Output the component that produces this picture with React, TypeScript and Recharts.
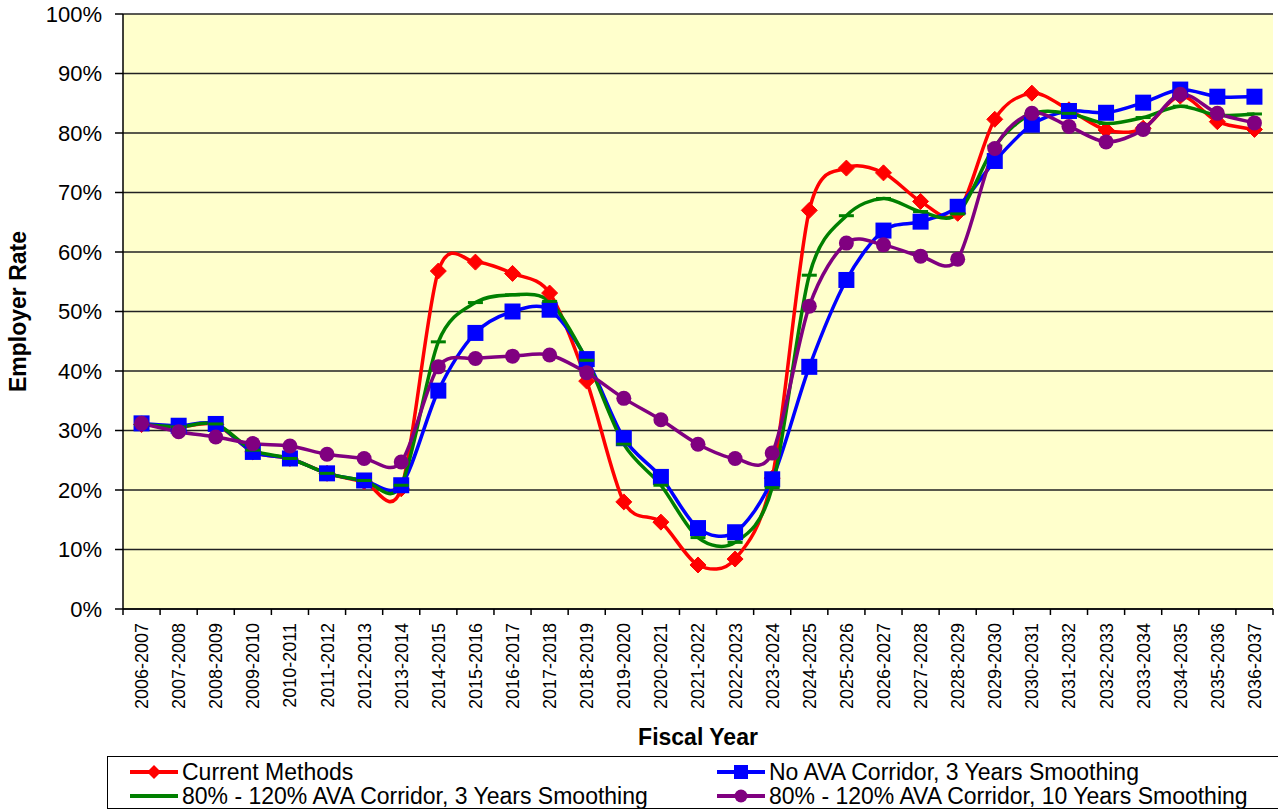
import React from 'react';
import { LineChart, Line, XAxis, YAxis, CartesianGrid, Legend, Label } from 'recharts';

const categories = [
  '2006-2007', '2007-2008', '2008-2009', '2009-2010', '2010-2011', '2011-2012', '2012-2013', '2013-2014',
  '2014-2015', '2015-2016', '2016-2017', '2017-2018', '2018-2019', '2019-2020', '2020-2021', '2021-2022',
  '2022-2023', '2023-2024', '2024-2025', '2025-2026', '2026-2027', '2027-2028', '2028-2029', '2029-2030',
  '2030-2031', '2031-2032', '2032-2033', '2033-2034', '2034-2035', '2035-2036', '2036-2037',
];

const currentMethods = [31, 30.6, 31, 26.4, 25.3, 22.8, 21.4, 20.2, 56.8, 58.3, 56.4, 53.1, 38.3, 18, 14.6, 7.4, 8.4, 22, 67, 74.1, 73.3, 68.5, 66.5, 82.3, 86.7, 83.9, 80.5, 80.8, 86.2, 81.9, 80.6];
const noCorridor3 = [31.2, 30.8, 31.1, 26.4, 25.3, 22.8, 21.6, 20.8, 36.7, 46.4, 50, 50.3, 42, 28.7, 22.2, 13.6, 12.9, 21.8, 40.7, 55.3, 63.6, 65.1, 67.6, 75.3, 81.4, 83.7, 83.4, 85.1, 87.3, 86.1, 86.1];
const corridor3 = [31, 30.6, 31.1, 26.7, 25.3, 22.8, 21.6, 20.8, 44.9, 51.5, 52.8, 51.7, 41.8, 27.7, 20.8, 12, 11.2, 20.4, 56.1, 66.1, 69, 66.8, 66.4, 77.8, 83.2, 83.3, 81.6, 82.6, 84.5, 83, 83.2];
const corridor10 = [31.2, 29.8, 28.9, 27.8, 27.4, 26, 25.3, 24.7, 40.7, 42.1, 42.5, 42.7, 39.7, 35.4, 31.8, 27.7, 25.3, 26.2, 50.9, 61.5, 61.2, 59.3, 58.8, 77.4, 83.3, 81.1, 78.5, 80.6, 86.5, 83.3, 81.7];

const yTicks = [0, 10, 20, 30, 40, 50, 60, 70, 80, 90, 100];

const seriesNames = [
  'Current Methods',
  'No AVA Corridor, 3 Years Smoothing',
  '80% - 120% AVA Corridor, 3 Years Smoothing',
  '80% - 120% AVA Corridor, 10 Years Smoothing',
];

const data = categories.map((year, i) => ({
  year,
  cur: currentMethods[i],
  noc: noCorridor3[i],
  c3: corridor3[i],
  c10: corridor10[i],
}));

const FONT = '"Liberation Sans", Arial, sans-serif';
const HALF_BAND = 18.55;

// Catmull-Rom style smoothing similar to Excel's smoothed lines
const smoothCurve = (context: any) => {
  let pts: number[][] = [];
  return {
    areaStart() {},
    areaEnd() {},
    lineStart() {
      pts = [];
    },
    point(x: number, y: number) {
      pts.push([+x, +y]);
    },
    lineEnd() {
      const n = pts.length;
      if (!n) return;
      context.moveTo(pts[0][0], pts[0][1]);
      const k = 0.15;
      for (let i = 0; i < n - 1; i++) {
        const p0 = pts[i - 1] || pts[i];
        const p1 = pts[i];
        const p2 = pts[i + 1];
        const p3 = pts[i + 2] || p2;
        context.bezierCurveTo(
          p1[0] + k * (p2[0] - p0[0]),
          p1[1] + k * (p2[1] - p0[1]),
          p2[0] - k * (p3[0] - p1[0]),
          p2[1] - k * (p3[1] - p1[1]),
          p2[0],
          p2[1],
        );
      }
    },
  };
};

const DiamondDot = (props: any) => {
  const { cx, cy, index } = props;
  if (cx == null || cy == null) return <g key={`dm-${index}`} />;
  const s = 8;
  return (
    <polygon
      key={`dm-${index}`}
      points={`${cx},${cy - s} ${cx + s},${cy} ${cx},${cy + s} ${cx - s},${cy}`}
      fill="#FF0000"
      stroke="#FF0000"
      strokeWidth={1}
    />
  );
};

const SquareDot = (props: any) => {
  const { cx, cy, index } = props;
  if (cx == null || cy == null) return <g key={`sq-${index}`} />;
  const s = 8;
  return <rect key={`sq-${index}`} x={cx - s} y={cy - s} width={2 * s} height={2 * s} fill="#0000FF" />;
};

const DashDot = (props: any) => {
  const { cx, cy, index } = props;
  if (cx == null || cy == null) return <g key={`ds-${index}`} />;
  return <rect key={`ds-${index}`} x={cx - 7.5} y={cy - 1.5} width={15} height={3} fill="#008000" />;
};

const CircleDot = (props: any) => {
  const { cx, cy, index } = props;
  if (cx == null || cy == null) return <g key={`ci-${index}`} />;
  return <circle key={`ci-${index}`} cx={cx} cy={cy} r={7.5} fill="#800080" />;
};

const XTick = (props: any) => {
  const { x, y, payload, index } = props;
  const half = payload && payload.offset > 0 ? payload.offset : HALF_BAND;
  const axisY = y - 14;
  const last = index === categories.length - 1;
  return (
    <g>
      <line x1={x - half} x2={x - half} y1={axisY} y2={axisY + 6} stroke="#000" strokeWidth={1.5} />
      {last && <line x1={x + half} x2={x + half} y1={axisY} y2={axisY + 6} stroke="#000" strokeWidth={1.5} />}
      <text
        x={x}
        y={y}
        transform={`rotate(-90 ${x} ${y})`}
        textAnchor="end"
        dy="0.36em"
        fontSize={18}
        fontFamily={FONT}
        fill="#000"
      >
        {payload.value}
      </text>
    </g>
  );
};

const legendIcon = (i: number) => {
  const colors = ['#FF0000', '#0000FF', '#008000', '#800080'];
  const c = colors[i];
  let marker: any = null;
  if (i === 0) marker = <polygon points="24,0 31,7 24,14 17,7" fill={c} />;
  if (i === 1) marker = <rect x={17} y={0} width={14} height={14} fill={c} />;
  if (i === 3) marker = <circle cx={24} cy={7} r={6.5} fill={c} />;
  return (
    <svg width={48} height={14} style={{ marginRight: 4, flex: 'none' }}>
      <line x1={0} x2={48} y1={7} y2={7} stroke={c} strokeWidth={4} />
      {marker}
    </svg>
  );
};

const renderLegend = () => (
  <div
    style={{
      boxSizing: 'border-box',
      width: 1171,
      height: 53,
      border: '1.5px solid #000',
      borderRight: 'none',
      paddingTop: 4,
      paddingLeft: 22,
      display: 'grid',
      gridTemplateColumns: '587px auto',
      fontSize: 23,
      lineHeight: '22px',
      fontFamily: FONT,
      color: '#000',
      background: '#fff',
      overflow: 'hidden',
    }}
  >
    {seriesNames.map((name, i) => (
      <div key={name} style={{ display: 'flex', alignItems: 'center', whiteSpace: 'nowrap', height: 22 }}>
        {legendIcon(i)}
        <span>{name}</span>
      </div>
    ))}
  </div>
);

export default function App() {
  return (
    <div style={{ width: 1278, height: 809, fontFamily: FONT, background: '#fff' }}>
      <style>{'body{margin:0;overflow:hidden}'}</style>
      <LineChart width={1278} height={809} data={data} margin={{ top: 14, right: 5, left: 0, bottom: 0 }}>
        <CartesianGrid horizontal vertical={false} fill="#FFFFCC" stroke="#222" strokeWidth={1.5} />
        <XAxis
          dataKey="year"
          interval={0}
          height={147}
          padding={{ left: HALF_BAND, right: HALF_BAND }}
          tickSize={5}
          tickMargin={9}
          tickLine={false}
          tick={<XTick />}
          axisLine={{ stroke: '#000', strokeWidth: 1.5 }}
        >
          <Label
            value="Fiscal Year"
            position="insideBottom"
            offset={11}
            style={{ fontSize: 23, fontWeight: 'bold', fill: '#000', fontFamily: FONT }}
          />
        </XAxis>
        <XAxis
          xAxisId="top"
          dataKey="year"
          orientation="top"
          height={0}
          tick={false}
          tickLine={false}
          axisLine={{ stroke: '#A0A0A0', strokeWidth: 2 }}
        />
        <YAxis
          width={123}
          domain={[0, 100]}
          ticks={yTicks}
          tickFormatter={(v: number) => `${v}%`}
          tickSize={8}
          tickMargin={13}
          tick={{ fontSize: 22, fill: '#000', fontFamily: FONT }}
          tickLine={{ stroke: '#000', strokeWidth: 1.5 }}
          axisLine={{ stroke: '#000', strokeWidth: 1.5 }}
        >
          <Label
            value="Employer Rate"
            angle={-90}
            position="insideLeft"
            offset={18}
            style={{ textAnchor: 'middle', fontSize: 23, fontWeight: 'bold', fill: '#000', fontFamily: FONT }}
          />
        </YAxis>
        <YAxis
          yAxisId="right"
          orientation="right"
          width={0}
          domain={[0, 100]}
          tick={false}
          tickLine={false}
          axisLine={{ stroke: '#A0A0A0', strokeWidth: 2 }}
        />
        <Legend verticalAlign="bottom" content={renderLegend} wrapperStyle={{ left: 107, top: 756, bottom: 'auto', width: 1171 }} />
        <Line
          dataKey="cur"
          name={seriesNames[0]}
          type={smoothCurve as any}
          stroke="#FF0000"
          strokeWidth={3.5}
          dot={(p: any) => <DiamondDot {...p} key={`dm-${p.index}`} />}
          activeDot={false}
          isAnimationActive={false}
        />
        <Line
          dataKey="noc"
          name={seriesNames[1]}
          type={smoothCurve as any}
          stroke="#0000FF"
          strokeWidth={3.5}
          dot={(p: any) => <SquareDot {...p} key={`sq-${p.index}`} />}
          activeDot={false}
          isAnimationActive={false}
        />
        <Line
          dataKey="c3"
          name={seriesNames[2]}
          type={smoothCurve as any}
          stroke="#008000"
          strokeWidth={3.5}
          dot={(p: any) => <DashDot {...p} key={`ds-${p.index}`} />}
          activeDot={false}
          isAnimationActive={false}
        />
        <Line
          dataKey="c10"
          name={seriesNames[3]}
          type={smoothCurve as any}
          stroke="#800080"
          strokeWidth={3.5}
          dot={(p: any) => <CircleDot {...p} key={`ci-${p.index}`} />}
          activeDot={false}
          isAnimationActive={false}
        />
      </LineChart>
    </div>
  );
}
